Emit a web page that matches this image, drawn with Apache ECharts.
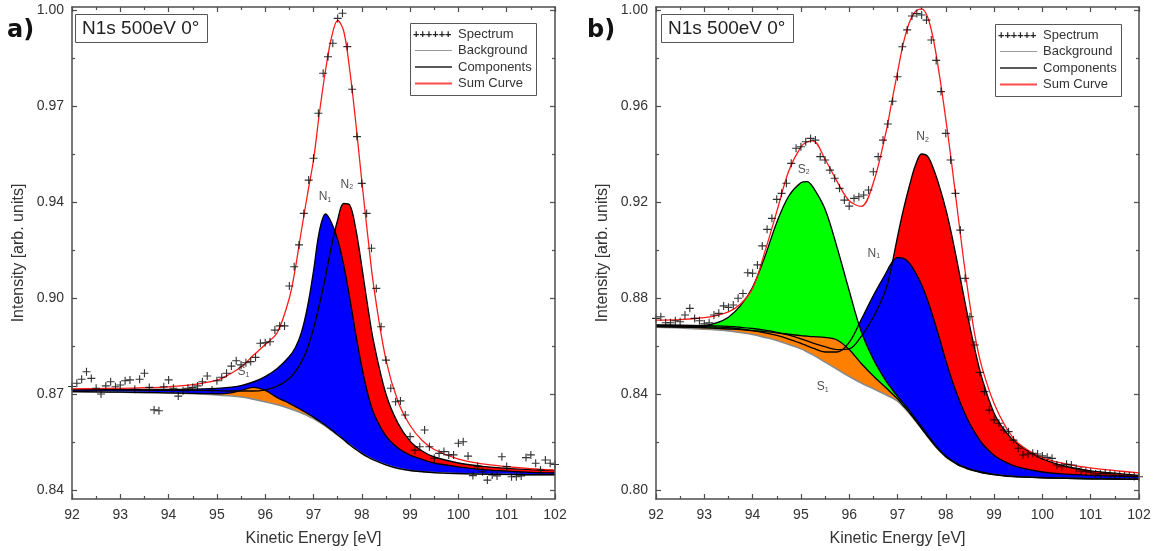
<!DOCTYPE html>
<html><head><meta charset="utf-8">
<script src="https://cdn.jsdelivr.net/npm/echarts@6.0.0/dist/echarts.min.js"></script>
<style>html,body{margin:0;padding:0;background:#fff}#c{width:1162px;height:551px}</style>
</head><body><div id="c"></div>
<script>
// ================= DATA =================
// tick values / labels
const xTickStep = 1;
const yTicksA = [0.84, 0.872, 0.904, 0.936, 0.968, 1.0];
const yMinorA = [0.856, 0.888, 0.92, 0.952, 0.984];
const yTicksB = [0.80, 0.84, 0.88, 0.92, 0.96, 1.00];
const yMinorB = [0.82, 0.86, 0.90, 0.94, 0.98];

// measured spectrum energies (both panels)
const specE = [92.0,92.1,92.2,92.3,92.4,92.5,92.6,92.7,92.8,92.9,
93.0,93.1,93.2,93.3,93.4,93.5,93.6,93.7,93.8,93.9,
94.0,94.1,94.2,94.3,94.4,94.5,94.6,94.7,94.8,94.9,
95.0,95.1,95.2,95.3,95.4,95.5,95.6,95.7,95.8,95.9,
96.0,96.1,96.2,96.3,96.4,96.5,96.6,96.7,96.8,96.9,
97.0,97.1,97.2,97.3,97.4,97.5,97.6,97.7,97.8,97.9,
98.0,98.1,98.2,98.3,98.4,98.5,98.6,98.7,98.8,98.9,
99.0,99.1,99.2,99.3,99.4,99.5,99.6,99.7,99.8,99.9,
100.0,100.1,100.2,100.3,100.4,100.5,100.6,100.7,100.8,100.9,
101.0,101.1,101.2,101.3,101.4,101.5,101.6,101.7,101.8,101.9,102.0];

// panel a) spectrum
const specA = [0.8745,0.8756,0.8769,0.8794,0.8772,0.8739,0.8720,0.8747,0.8761,0.8744,
0.8750,0.8764,0.8767,0.8736,0.8769,0.8789,0.8742,0.8667,0.8664,0.8744,
0.8767,0.8739,0.8713,0.8731,0.8739,0.8742,0.8747,0.8761,0.8780,0.8733,
0.8764,0.8776,0.8789,0.8813,0.8831,0.8817,0.8824,0.8828,0.8842,0.8889,
0.8891,0.8894,0.8933,0.8947,0.8947,0.9080,0.9144,0.9217,0.9322,0.9433,
0.9506,0.9656,0.9789,0.9844,0.9889,0.9972,0.9989,0.9878,0.9736,0.9578,
0.9422,0.9322,0.9206,0.9072,0.8944,0.8833,0.8739,0.8694,0.8697,0.8650,
0.8578,0.8533,0.8544,0.8600,0.8544,0.8506,0.8522,0.8528,0.8517,0.8517,
0.8556,0.8561,0.8513,0.8448,0.8478,0.8461,0.8433,0.8450,0.8447,0.8511,
0.8478,0.8444,0.8444,0.8447,0.8508,0.8517,0.8489,0.8467,0.8500,0.8489,0.8485];

// panel b) spectrum
const specB = [0.8715,0.8722,0.8697,0.8697,0.8705,0.8701,0.8729,0.8757,0.8715,0.8705,
0.8692,0.8697,0.8729,0.8736,0.8767,0.8761,0.8771,0.8799,0.8819,0.8905,
0.8903,0.8938,0.9017,0.9086,0.9132,0.9211,0.9236,0.9278,0.9361,0.9424,
0.9430,0.9451,0.9465,0.9458,0.9389,0.9375,0.9333,0.9299,0.9257,0.9208,
0.9183,0.9215,0.9222,0.9229,0.9250,0.9326,0.9389,0.9458,0.9525,0.9620,
0.9722,0.9847,0.9917,0.9975,0.9985,0.9979,0.9958,0.9875,0.9790,0.9660,
0.9486,0.9375,0.9236,0.9083,0.8882,0.8722,0.8604,0.8490,0.8410,0.8333,
0.8292,0.8278,0.8250,0.8243,0.8208,0.8174,0.8146,0.8150,0.8153,0.8150,
0.8142,0.8136,0.8132,0.8104,0.8097,0.8107,0.8104,0.8090,0.8079,0.8076,
0.8074,0.8067,0.8067,0.8070,0.8067,0.8061,0.8061,0.8058,0.8058,0.8056,0.8055];

// panel a) fitted curves
const eA   = [92,92.5,93,93.5,94,94.5,95,95.25,95.5,95.75,96,96.25,96.5,96.625,96.75,96.875,97,97.125,97.25,97.375,97.5,97.625,97.75,97.875,98,98.125,98.25,98.5,98.75,99,99.25,99.5,100,100.5,101,101.5,102];
const bgA  = [0.8728,0.8727,0.8726,0.8725,0.8723,0.8721,0.8717,0.8714,0.8710,0.8703,0.8694,0.8684,0.8672,0.8665,0.8657,0.8648,0.8638,0.8626,0.8613,0.8598,0.8583,0.8567,0.8551,0.8536,0.8522,0.8510,0.8500,0.8484,0.8472,0.8465,0.8461,0.8458,0.8455,0.8453,0.8452,0.8451,0.8451];
const n1A  = [0.8735,0.8735,0.8735,0.8735,0.8735,0.8736,0.8739,0.8742,0.8748,0.8760,0.8778,0.8805,0.8845,0.8875,0.8925,0.9010,0.9130,0.9265,0.9320,0.9290,0.9235,0.9150,0.9040,0.8920,0.8810,0.8720,0.8655,0.8580,0.8540,0.8516,0.8502,0.8490,0.8477,0.8468,0.8463,0.8459,0.8457];
const n2A  = [0.8734,0.8734,0.8734,0.8733,0.8732,0.8732,0.8731,0.8730,0.8730,0.8730,0.8734,0.8746,0.8772,0.8795,0.8827,0.8872,0.8938,0.9020,0.9113,0.9215,0.9300,0.9355,0.9350,0.9270,0.9145,0.9010,0.8890,0.8720,0.8622,0.8563,0.8530,0.8510,0.8490,0.8479,0.8472,0.8468,0.8465];
const s1A  = [0.8728,0.8727,0.8726,0.8725,0.8724,0.8722,0.8721,0.8723,0.8732,0.8742,0.8732,0.8708,0.8689,0.8678,0.8667,0.8655,0.8643,0.8629,0.8615,0.8600,0.8584,0.8568,0.8551,0.8536,0.8522,0.8510,0.8500,0.8484,0.8472,0.8465,0.8461,0.8458,0.8455,0.8453,0.8452,0.8451,0.8451];
const sumA = [0.8737,0.8738,0.8739,0.8741,0.8744,0.8751,0.8766,0.8785,0.8810,0.8848,0.8885,0.8925,0.9040,0.9140,0.9265,0.9385,0.9500,0.9660,0.9800,0.9910,0.9965,0.9930,0.9800,0.9625,0.9430,0.9245,0.9075,0.8834,0.8695,0.8615,0.8565,0.8535,0.8503,0.8487,0.8478,0.8471,0.8466];

// panel b) fitted curves
const eB   = [92,92.5,93,93.25,93.5,93.75,94,94.25,94.5,94.75,95,95.125,95.25,95.5,95.75,96,96.25,96.5,96.75,96.875,97,97.125,97.25,97.375,97.5,97.625,97.75,97.875,98,98.125,98.25,98.375,98.5,98.625,98.75,99,99.25,99.5,100,100.5,101,101.5,102];
const bgB  = [0.8678,0.8675,0.8670,0.8667,0.8663,0.8656,0.8648,0.8636,0.8623,0.8606,0.8588,0.8576,0.8563,0.8533,0.8503,0.8473,0.8446,0.8422,0.8398,0.8385,0.8370,0.8346,0.8318,0.8287,0.8255,0.8222,0.8190,0.8162,0.8138,0.8120,0.8105,0.8094,0.8085,0.8078,0.8072,0.8064,0.8058,0.8055,0.8051,0.8049,0.8047,0.8046,0.8045];
const n1B  = [0.8686,0.8684,0.8681,0.8679,0.8676,0.8671,0.8664,0.8655,0.8644,0.8629,0.8611,0.8601,0.8591,0.8575,0.8575,0.8615,0.8710,0.8810,0.8900,0.8945,0.8968,0.8965,0.8944,0.8905,0.8855,0.8790,0.8712,0.8628,0.8540,0.8460,0.8390,0.8328,0.8275,0.8232,0.8195,0.8145,0.8115,0.8095,0.8075,0.8066,0.8061,0.8058,0.8056];
const n2B  = [0.8688,0.8687,0.8685,0.8684,0.8682,0.8678,0.8673,0.8666,0.8657,0.8645,0.8630,0.8621,0.8612,0.8597,0.8585,0.8588,0.8640,0.8720,0.8830,0.8930,0.9055,0.9170,0.9270,0.9355,0.9400,0.9390,0.9335,0.9260,0.9170,0.9060,0.8935,0.8805,0.8680,0.8565,0.8465,0.8320,0.8240,0.8190,0.8130,0.8098,0.8080,0.8070,0.8061];
const s2B  = [0.8682,0.8680,0.8685,0.8696,0.8720,0.8768,0.8845,0.8970,0.9115,0.9225,0.9280,0.9285,0.9262,0.9170,0.9010,0.8830,0.8660,0.8545,0.8458,0.8423,0.8390,0.8360,0.8330,0.8296,0.8263,0.8229,0.8196,0.8166,0.8142,0.8123,0.8108,0.8096,0.8087,0.8080,0.8074,0.8065,0.8059,0.8056,0.8052,0.8049,0.8047,0.8046,0.8045];
const s1B  = [0.8681,0.8679,0.8676,0.8674,0.8671,0.8668,0.8664,0.8660,0.8655,0.8649,0.8643,0.8641,0.8639,0.8636,0.8625,0.8585,0.8527,0.8475,0.8428,0.8404,0.8380,0.8351,0.8322,0.8289,0.8256,0.8223,0.8191,0.8163,0.8139,0.8121,0.8105,0.8095,0.8085,0.8079,0.8072,0.8064,0.8058,0.8055,0.8051,0.8049,0.8047,0.8046,0.8045];
const sumB = [0.8708,0.8710,0.8718,0.8727,0.8742,0.8775,0.8840,0.8990,0.9160,0.9330,0.9430,0.9450,0.9455,0.9378,0.9285,0.9205,0.9182,0.9280,0.9480,0.9610,0.9740,0.9865,0.9950,0.9995,1.0005,0.9970,0.9870,0.9720,0.9545,0.9355,0.9150,0.8950,0.8770,0.8620,0.8510,0.8360,0.8260,0.8195,0.8135,0.8108,0.8092,0.8081,0.8071];

// peak annotations: [letter, subscript, energy, intensity]
const labelsA = [['N','1',97.24,0.9378],['N','2',97.69,0.9419],['S','1',95.55,0.8794]];
const labelsB = [['S','2',95.06,0.9336],['N','1',96.51,0.8986],['N','2',97.52,0.9472],['S','1',95.45,0.8430]];

// ================= CHART =================
const FONT = '"Liberation Sans", Arial, sans-serif';
const AX = '#4d4d4d';
const TXT = '#333333';
const C_RED = '#ff0000', C_BLUE = '#0000ff', C_GREEN = '#00ff00', C_ORANGE = '#ff8000';
const PLUS = 'path://M4.3,0h1.4v4.3h4.3v1.4h-4.3v4.3h-1.4v-4.3h-4.3v-1.4h4.3z';
const SMOOTH = 0.35;

function pts(E, v) { return E.map((e, i) => [e, v[i]]); }

function panelSeries(xi, yi, E, bg, comps, sum, spec, labels) {
  const s = [];
  const common = { type: 'line', xAxisIndex: xi, yAxisIndex: yi, smooth: SMOOTH, symbol: 'none', silent: true, animation: false };
  // filled components (painted from the axis bottom, later ones on top), then a white mask below the background
  comps.forEach(c => {
    s.push(Object.assign({}, common, { data: pts(E, c.v), lineStyle: { width: 0, opacity: 0 }, areaStyle: { color: c.color, opacity: 1, origin: 'start' }, z: 2 }));
  });
  s.push(Object.assign({}, common, { data: pts(E, bg), lineStyle: { width: 0, opacity: 0 }, areaStyle: { color: '#ffffff', opacity: 1, origin: 'start' }, z: 2 }));
  s.push(Object.assign({}, common, { data: pts(E, bg), lineStyle: { color: '#8a8a8a', width: 1.6 }, z: 3 }));
  comps.forEach(c => {
    s.push(Object.assign({}, common, { data: pts(E, c.v), lineStyle: { color: '#000', width: 1.35 }, z: 4 }));
  });
  s.push(Object.assign({}, common, { data: pts(E, sum), lineStyle: { color: '#ff1a1a', width: 1.3 }, z: 5 }));
  s.push({ type: 'scatter', xAxisIndex: xi, yAxisIndex: yi, data: pts(specE, spec), symbol: PLUS, symbolSize: 8,
           itemStyle: { color: '#000' }, silent: true, animation: false, z: 6 });
  s.push({ type: 'scatter', xAxisIndex: xi, yAxisIndex: yi, symbolSize: 0, silent: true, animation: false, z: 7,
           data: labels.map(l => [l[2], l[3]]),
           label: { show: true, position: 'inside', formatter: (d) => '{m|' + labels[d.dataIndex][0] + '}{s|' + labels[d.dataIndex][1] + '}',
                    rich: { m: { fontSize: 12, color: '#222', fontFamily: FONT }, s: { fontSize: 7, color: '#222', fontFamily: FONT, verticalAlign: 'bottom', padding: [6, 0, 0, 0] } } } });
  return s;
}

function xAxes(grid, top) {
  return {
    gridIndex: grid, type: 'value', min: 92, max: 102, interval: xTickStep, position: top ? 'top' : 'bottom', z: 10,
    axisLine: { show: true, onZero: false, lineStyle: { color: AX, width: 1.5 } },
    axisTick: { show: true, inside: true, length: 5, lineStyle: { color: AX, width: 1.2 } },
    minorTick: { show: true, splitNumber: 2, length: 3, lineStyle: { color: AX, width: 1.2 } },
    axisLabel: { show: !top, margin: 9, fontSize: 14, color: TXT, fontFamily: FONT },
    splitLine: { show: false }, minorSplitLine: { show: false },
    name: top ? '' : 'Kinetic Energy [eV]', nameLocation: 'middle', nameGap: 32, nameMoveOverlap: false,
    nameTextStyle: { fontSize: 16, color: TXT, fontFamily: FONT }
  };
}
function yAxis(grid, side, min, max, ticks, minor) {
  const major = !minor;
  return {
    gridIndex: grid, type: 'value', min: min, max: max, position: side, z: 10,
    axisLine: { show: major, onZero: false, lineStyle: { color: AX, width: 1.5 } },
    axisTick: { show: true, inside: true, length: major ? 5 : 3, customValues: ticks, lineStyle: { color: AX, width: 1.2 } },
    axisLabel: { show: major && side === 'left', customValues: ticks, formatter: v => v.toFixed(2), margin: 8, fontSize: 14, color: TXT, fontFamily: FONT },
    splitLine: { show: false },
    name: (major && side === 'left') ? 'Intensity [arb. units]' : '', nameLocation: 'middle', nameGap: 45, nameMoveOverlap: false,
    nameTextStyle: { fontSize: 16, color: TXT, fontFamily: FONT }
  };
}
function hiddenX(grid) { return { gridIndex: grid, type: 'value', min: 92, max: 102, show: false }; }

const gA = { left: 72, top: 7, width: 483, height: 492, outerBoundsMode: 'none', containLabel: false };
const gB = { left: 656, top: 7, width: 483, height: 492, outerBoundsMode: 'none', containLabel: false };
const minA = 0.837, maxA = 1.001, minB = 0.79625, maxB = 1.00125;

const series = [].concat(
  panelSeries(0, 0, eA, bgA,
    [{ v: n2A, color: C_RED }, { v: n1A, color: C_BLUE }, { v: s1A, color: C_ORANGE }], sumA, specA, labelsA),
  panelSeries(3, 4, eB, bgB,
    [{ v: n2B, color: C_RED }, { v: n1B, color: C_BLUE }, { v: s2B, color: C_GREEN }, { v: s1B, color: C_ORANGE }], sumB, specB, labelsB)
);

function legendGraphics(x0, y0) {
  const rows = [11, 27.5, 44, 60.5];
  const g = [
    { type: 'rect', z: 50, shape: { x: x0 + 0.5, y: y0 + 0.5, width: 126, height: 72 }, style: { fill: '#fff', stroke: '#555', lineWidth: 1 } },
    { type: 'text', z: 51, x: x0 + 3, y: y0 + rows[0] + 1, style: { text: '++++++', fontSize: 11, fontWeight: 'bold', fill: '#222', fontFamily: FONT, verticalAlign: 'middle' } },
    { type: 'line', z: 51, shape: { x1: x0 + 5, y1: y0 + rows[1], x2: x0 + 42, y2: y0 + rows[1] }, style: { stroke: '#9a9a9a', lineWidth: 1 } },
    { type: 'line', z: 51, shape: { x1: x0 + 5, y1: y0 + rows[2], x2: x0 + 42, y2: y0 + rows[2] }, style: { stroke: '#222', lineWidth: 1.5 } },
    { type: 'line', z: 51, shape: { x1: x0 + 5, y1: y0 + rows[3], x2: x0 + 42, y2: y0 + rows[3] }, style: { stroke: '#ff4d4d', lineWidth: 2 } }
  ];
  ['Spectrum', 'Background', 'Components', 'Sum Curve'].forEach((t, i) => {
    g.push({ type: 'text', z: 51, x: x0 + 48, y: y0 + rows[i], style: { text: t, fontSize: 13, fill: TXT, fontFamily: FONT, verticalAlign: 'middle' } });
  });
  return g;
}
function titleGraphics(x0, tag, tx) {
  return [
    { type: 'text', z: 51, x: tx, y: 31, style: { text: tag, fontSize: 24, fontWeight: 'bold', fill: '#111', fontFamily: '"DejaVu Sans", sans-serif', verticalAlign: 'middle' } },
    { type: 'rect', z: 50, shape: { x: x0 + 0.5, y: 14.5, width: 132, height: 28 }, style: { fill: '#fff', stroke: '#555', lineWidth: 1 } },
    { type: 'text', z: 51, x: x0 + 7, y: 29, style: { text: 'N1s 500eV 0°', fontSize: 19, fill: '#222', fontFamily: FONT, verticalAlign: 'middle' } }
  ];
}

const option = {
  animation: false,
  backgroundColor: '#fff',
  grid: [gA, Object.assign({}, gA), gB, Object.assign({}, gB)],
  xAxis: [xAxes(0, false), xAxes(0, true), hiddenX(1), xAxes(2, false), xAxes(2, true), hiddenX(3)],
  yAxis: [
    yAxis(0, 'left', minA, maxA, yTicksA, false), yAxis(0, 'right', minA, maxA, yTicksA, false),
    yAxis(1, 'left', minA, maxA, yMinorA, true), yAxis(1, 'right', minA, maxA, yMinorA, true),
    yAxis(2, 'left', minB, maxB, yTicksB, false), yAxis(2, 'right', minB, maxB, yTicksB, false),
    yAxis(3, 'left', minB, maxB, yMinorB, true), yAxis(3, 'right', minB, maxB, yMinorB, true)
  ],
  series: series,
  graphic: [].concat(titleGraphics(75, 'a)', 7), titleGraphics(661, 'b)', 587), legendGraphics(410, 23), legendGraphics(995, 24))
};

const chart = echarts.init(document.getElementById('c'), null, { renderer: 'canvas' });
chart.setOption(option);
</script>
</body></html>
